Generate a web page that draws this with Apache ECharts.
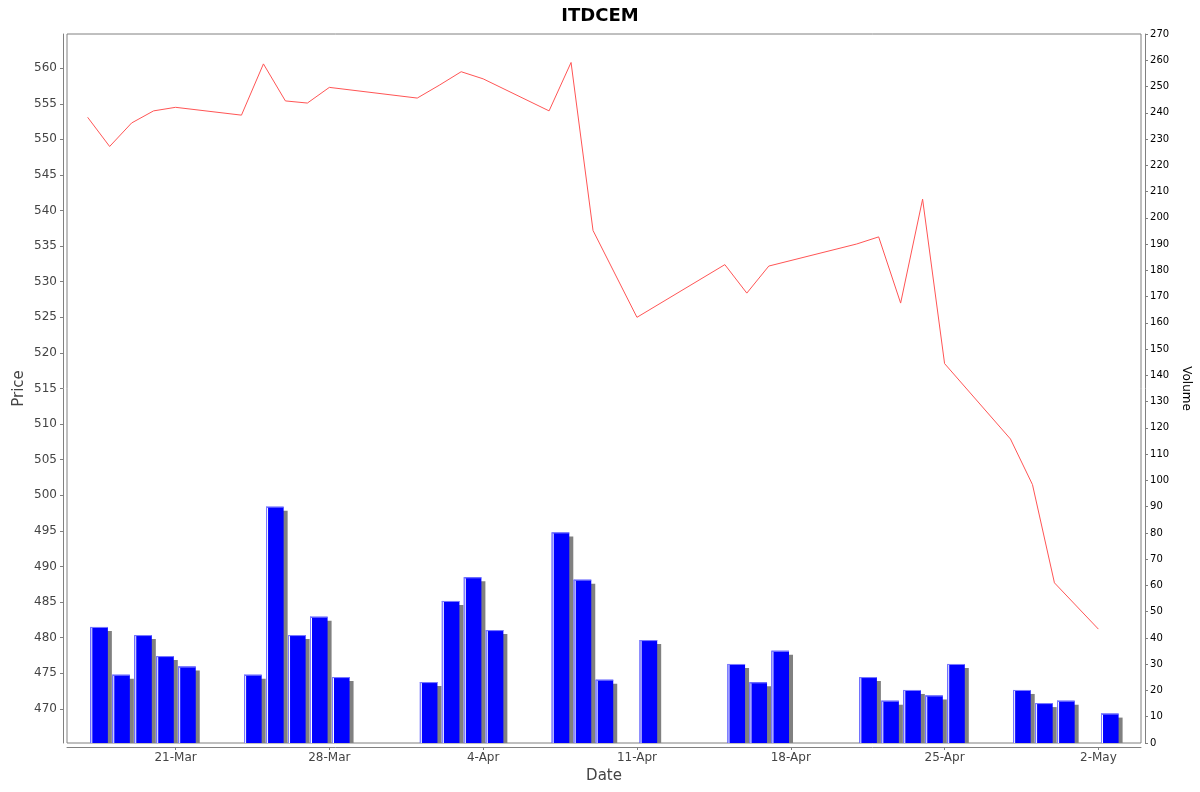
<!DOCTYPE html>
<html>
<head>
<meta charset="utf-8">
<title>ITDCEM</title>
<script src="https://cdn.jsdelivr.net/npm/echarts@6/dist/echarts.min.js"></script>
<style>
  html, body { margin: 0; padding: 0; background: #fff; }
  #main { width: 1200px; height: 792px; }
</style>
</head>
<body>
<div id="main"></div>
<script>
// trading days
var dates = [
  "2014-03-17", "2014-03-18", "2014-03-19", "2014-03-20", "2014-03-21",
  "2014-03-24", "2014-03-25", "2014-03-26", "2014-03-27", "2014-03-28",
  "2014-04-01", "2014-04-02", "2014-04-03", "2014-04-04",
  "2014-04-07", "2014-04-08", "2014-04-09", "2014-04-11",
  "2014-04-15", "2014-04-16", "2014-04-17",
  "2014-04-21", "2014-04-22", "2014-04-23", "2014-04-24", "2014-04-25",
  "2014-04-28", "2014-04-29", "2014-04-30", "2014-05-02"
];

var prices = [
  553.1, 549.0, 552.3, 554.0, 554.5,
  553.4, 560.6, 555.4, 555.1, 557.3,
  555.8, 557.6, 559.5, 558.5,
  554.0, 560.8, 537.2, 525.0,
  532.4, 528.4, 532.2,
  535.3, 536.3, 527.0, 541.6, 518.5,
  507.9, 501.5, 487.7, 481.2
];

var volumes = [
  44.2, 26.0, 41.1, 33.1, 29.1,
  26.0, 90.0, 41.1, 48.1, 25.1,
  23.2, 54.1, 63.1, 43.0,
  80.2, 62.2, 24.1, 39.2,
  30.1, 23.1, 35.1,
  25.1, 16.1, 20.2, 18.1, 30.1,
  20.2, 15.2, 16.1, 11.2
];

var tickDates = ["2014-03-21", "2014-03-28", "2014-04-04", "2014-04-11", "2014-04-18", "2014-04-25", "2014-05-02"];
var priceTicks = [470, 475, 480, 485, 490, 495, 500, 505, 510, 515, 520, 525, 530, 535, 540, 545, 550, 555, 560];
var monthNames = ["Jan", "Feb", "Mar", "Apr", "May", "Jun", "Jul", "Aug", "Sep", "Oct", "Nov", "Dec"];

// days since epoch, so the x axis can be a plain value axis
function toDay(s) {
  var p = s.split("-");
  return Date.UTC(+p[0], +p[1] - 1, +p[2]) / 86400000;
}

function dayLabel(v) {
  var d = new Date(Math.round(v) * 86400000);
  return d.getUTCDate() + "-" + monthNames[d.getUTCMonth()];
}

var lineData = dates.map(function (d, i) { return [toDay(d), prices[i]]; });
var barData = dates.map(function (d, i) { return [toDay(d), volumes[i]]; });
var xTicks = tickDates.map(toDay);
var xPad = 0.94;

var dom = document.getElementById("main");
var myChart = echarts.init(dom, null, { renderer: "canvas" });

var option = {
  animation: false,
  backgroundColor: "#ffffff",
  textStyle: { fontFamily: "DejaVu Sans" },
  title: {
    text: "ITDCEM",
    left: "center",
    top: 2,
    textStyle: { fontSize: 18, fontWeight: "bold", color: "#000", fontFamily: "DejaVu Sans" }
  },
  grid: {
    left: 67,
    right: 56,
    top: 34,
    bottom: 49,
    show: true,
    borderColor: "#808080",
    borderWidth: 1
  },
  xAxis: {
    type: "value",
    min: toDay(dates[0]) - xPad,
    max: toDay(dates[dates.length - 1]) + 1 + xPad,
    offset: 4,
    name: "Date",
    nameLocation: "middle",
    nameGap: 22,
    nameTextStyle: { fontSize: 15, color: "#444" },
    axisLine: { onZero: false, lineStyle: { color: "#808080" } },
    axisTick: { length: 3, lineStyle: { color: "#808080" }, customValues: xTicks },
    axisLabel: {
      customValues: xTicks,
      formatter: dayLabel,
      fontSize: 12,
      color: "#444",
      margin: 5
    },
    splitLine: { show: false }
  },
  yAxis: [
    {
      type: "value",
      position: "left",
      min: 465.2,
      max: 564.8,
      offset: 4,
      name: "Price",
      nameLocation: "middle",
      nameGap: 36,
      nameMoveOverlap: false,
      nameTextStyle: { fontSize: 15, color: "#444" },
      axisLine: { show: true, lineStyle: { color: "#808080" } },
      axisTick: { show: true, length: 3, lineStyle: { color: "#808080" }, customValues: priceTicks },
      axisLabel: { customValues: priceTicks, fontSize: 12, color: "#444", margin: 6 },
      splitLine: { show: false }
    },
    {
      type: "value",
      position: "right",
      min: 0,
      max: 270,
      interval: 10,
      offset: 4,
      name: "Volume",
      nameLocation: "middle",
      nameRotate: -90,
      nameGap: 27,
      nameTextStyle: { fontSize: 12, color: "#000" },
      axisLine: { show: true, lineStyle: { color: "#808080" } },
      axisTick: { show: true, length: 3, lineStyle: { color: "#808080" } },
      axisLabel: { fontSize: 10, color: "#000", margin: 5 },
      splitLine: { show: false }
    }
  ],
  series: [
    {
      name: "Volume",
      type: "custom",
      yAxisIndex: 1,
      clip: true,
      encode: { x: 0, y: 1 },
      data: barData,
      renderItem: function (params, api) {
        var t = api.value(0);
        var v = api.value(1);
        var top = api.coord([t + 0.12, v]);
        var bot = api.coord([t + 0.92, 0]);
        var w = bot[0] - top[0];
        var h = bot[1] - top[1];
        return {
          type: "group",
          children: [
            { type: "rect", shape: { x: top[0] + 4, y: top[1] + 4, width: w, height: h - 4 }, style: { fill: "#808080" } },
            { type: "rect", shape: { x: top[0], y: top[1], width: w, height: h }, style: { fill: "#0000ff" } },
            { type: "line", shape: { x1: top[0] + 0.5, y1: top[1], x2: top[0] + 0.5, y2: bot[1] }, style: { stroke: "#8080ff", lineWidth: 1 } },
            { type: "line", shape: { x1: top[0] + 1.5, y1: top[1] + 1, x2: top[0] + 1.5, y2: bot[1] }, style: { stroke: "#ffffff", lineWidth: 1 } },
            { type: "line", shape: { x1: top[0], y1: top[1] + 0.5, x2: top[0] + w, y2: top[1] + 0.5 }, style: { stroke: "#8080ff", lineWidth: 1 } }
          ]
        };
      }
    },
    {
      name: "Price",
      type: "line",
      yAxisIndex: 0,
      data: lineData,
      symbol: "none",
      lineStyle: { color: "#ff5555", width: 1 },
      z: 3
    }
  ]
};

myChart.setOption(option);
window.addEventListener("resize", myChart.resize);
</script>
</body>
</html>
